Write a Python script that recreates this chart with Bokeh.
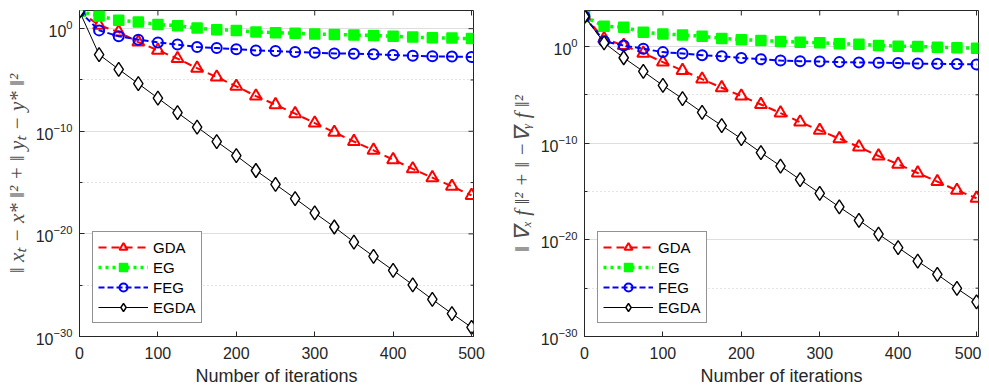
from bokeh.plotting import figure
from bokeh.layouts import row
from bokeh.models import (Range1d, FixedTicker, Legend, LegendItem, ColumnDataSource)
from bokeh.embed import file_html
from bokeh.resources import INLINE
import math

# ---------------- data ----------------
iters = [0, 25, 50, 75, 100, 125, 150, 175, 200, 225, 250,
         275, 300, 325, 350, 375, 400, 425, 450, 475, 500]

# left panel: ||x_t - x*||^2 + ||y_t - y*||^2
gda_dist = [49, 2.1, 0.47, 0.049, 7.8e-3, 1.2e-3, 1.4e-4, 1.9e-5, 2.4e-6, 2.7e-7, 3.9e-8,
            5.2e-9, 6.3e-10, 7.8e-11, 1.0e-11, 1.4e-12, 1.7e-13, 2.2e-14, 3.0e-15, 4.3e-16, 5.6e-17]
eg_dist = [49, 17, 6.5, 4.4, 2.6, 1.95, 1.15, 0.79, 0.68, 0.47, 0.41,
           0.35, 0.30, 0.275, 0.24, 0.22, 0.18, 0.15, 0.13, 0.12, 0.107]
feg_dist = [49, 0.68, 0.18, 0.085, 0.046, 0.028, 0.016, 0.013, 0.010, 7.6e-3, 6.6e-3,
            5.2e-3, 4.6e-3, 3.9e-3, 3.6e-3, 3.2e-3, 2.7e-3, 2.3e-3, 2.0e-3, 1.9e-3, 1.7e-3]
egda_dist = [49, 3.0e-3, 1.1e-4, 4.4e-6, 1.7e-7, 6.5e-9, 2.6e-10, 1.0e-11, 4.2e-13, 1.5e-14, 6.6e-16,
             2.8e-17, 1.1e-18, 4.7e-20, 1.6e-21, 6.5e-23, 2.8e-24, 1.1e-25, 4.1e-27, 1.7e-28, 7.8e-30]

# right panel: ||grad_x f||^2 + ||-grad_y f||^2
gda_grad = [1.26e3, 6.3, 1.26, 0.20, 0.024, 3.3e-3, 4.2e-4, 5.4e-5, 7.4e-6, 1.0e-6, 1.3e-7,
            1.5e-8, 2.1e-9, 2.9e-10, 4.0e-11, 4.7e-12, 6.5e-13, 8.1e-14, 1.05e-14, 1.3e-15, 2.0e-16]
eg_grad = [1.26e3, 126, 98, 30, 20, 15.5, 11.5, 6.8, 5.0, 4.2, 3.3,
           2.75, 2.4, 1.9, 1.7, 1.26, 1.07, 1.0, 0.85, 0.74, 0.66]
feg_grad = [1.26e3, 3.5, 1.26, 0.58, 0.26, 0.19, 0.126, 0.098, 0.065, 0.048, 0.035,
            0.030, 0.028, 0.024, 0.022, 0.021, 0.019, 0.017, 0.016, 0.015, 0.014]
egda_grad = [1.26e3, 2.4, 0.068, 2.6e-3, 9.3e-5, 4.0e-6, 1.5e-7, 6.6e-9, 2.9e-10, 1.05e-11, 4.3e-13,
             1.7e-14, 6.5e-16, 2.5e-17, 1.05e-18, 3.8e-20, 1.6e-21, 6.2e-23, 2.6e-24, 9.3e-26, 3.9e-27]

series_names = ["GDA", "EG", "FEG", "EGDA"]
x_ticks = [0, 100, 200, 300, 400, 500]
y_ticks = [1e-30, 1e-20, 1e-10, 1e0]
y_minor_ticks = [1e-25, 1e-15, 1e-5]

left_label = "\u2016 x\u209c \u2212 x* \u2016\u00b2 + \u2016 y\u209c \u2212 y* \u2016\u00b2"
right_label = "\u2016 \u2207\u2093 f \u2016\u00b2 + \u2016 \u2212\u2207\u1d67 f \u2016\u00b2"
x_label = "Number of iterations"

AX = "#262626"
TICK_FONT = "Liberation Sans"
X_MAX = 502.5

styles = {
    "GDA": dict(color="#ff0000", dash="8 5", lw=2, marker="triangle", size=12,
                fill=None, mlw=2),
    "EG": dict(color="#00ff00", dash="3 4", lw=3.5, marker="square", size=10,
               fill="#00ff00", mlw=1.5),
    "FEG": dict(color="#0000ff", dash="6 3", lw=2, marker="circle", size=10,
                fill=None, mlw=2),
    "EGDA": dict(color="#000000", dash="solid", lw=1, marker="diamond", size=14,
                 fill="white", mlw=1.4),
}


def make_panel(values, ylabel, ytop, border_left, border_right):
    p = figure(frame_width=394, frame_height=326, y_axis_type="log",
               x_range=Range1d(0, X_MAX), y_range=Range1d(1e-30, ytop),
               output_backend="svg", toolbar_location=None,
               min_border_left=border_left, min_border_right=border_right,
               min_border_top=10, min_border_bottom=44,
               background_fill_color="white", border_fill_color="white")
    p.outline_line_color = AX
    p.outline_line_width = 1

    # axes
    p.xaxis.ticker = FixedTicker(ticks=x_ticks)
    p.yaxis.ticker = FixedTicker(ticks=y_ticks, minor_ticks=y_minor_ticks)
    for ax in (p.xaxis[0], p.yaxis[0]):
        ax.axis_line_color = AX
        ax.major_tick_line_color = AX
        ax.minor_tick_line_color = AX
        ax.major_tick_in = 5
        ax.major_tick_out = 0
        ax.minor_tick_in = 3
        ax.minor_tick_out = 0
        ax.major_label_text_font = TICK_FONT
        ax.major_label_text_font_size = "16px"
        ax.major_label_text_color = AX
    p.xaxis.minor_tick_line_color = None
    p.xaxis.major_label_standoff = 10
    p.yaxis.major_label_standoff = 7
    p.xaxis.axis_label = x_label
    p.xaxis.axis_label_text_font = TICK_FONT
    p.xaxis.axis_label_text_font_style = "normal"
    p.xaxis.axis_label_text_font_size = "18px"
    p.xaxis.axis_label_text_color = AX
    p.xaxis.axis_label_standoff = 4
    p.yaxis.axis_label = ylabel
    p.yaxis.axis_label_text_font = "Liberation Serif"
    p.yaxis.axis_label_text_font_style = "italic"
    p.yaxis.axis_label_text_font_size = "21px"
    p.yaxis.axis_label_text_color = "#4d4d4d"
    p.yaxis.axis_label_standoff = 4

    # grids
    p.xgrid.grid_line_color = None
    p.ygrid.grid_line_color = "#dedede"
    p.ygrid.grid_line_width = 1
    p.ygrid.minor_grid_line_color = "#c8c8c8"
    p.ygrid.minor_grid_line_dash = "1 3"

    # box ticks on the top and right edges (half of each dash is clipped by the frame)
    p.scatter(x=x_ticks, y=[ytop] * len(x_ticks), marker="dash", angle=math.pi / 2,
              size=10, line_color=AX, line_width=1)
    p.scatter(x=[X_MAX] * len(y_ticks), y=y_ticks, marker="dash",
              size=10, line_color=AX, line_width=1)
    p.scatter(x=[X_MAX] * len(y_minor_ticks), y=y_minor_ticks, marker="dash",
              size=6, line_color=AX, line_width=1)

    items = []
    for name, vals in zip(series_names, values):
        st = styles[name]
        src = ColumnDataSource(dict(x=iters, y=vals))
        ln = p.line("x", "y", source=src, line_color=st["color"], line_width=st["lw"],
                    line_dash=st["dash"])
        sc = p.scatter("x", "y", source=src, marker=st["marker"], size=st["size"],
                       line_color=st["color"], line_width=st["mlw"],
                       fill_color=st["fill"])
        items.append(LegendItem(label=name, renderers=[ln, sc]))

    legend = Legend(items=items, location=(13, 13), margin=0, padding=5, spacing=0,
                    glyph_width=50, glyph_height=20, label_height=20, label_standoff=5,
                    label_text_font=TICK_FONT, label_text_font_size="15px",
                    label_text_color="#000000",
                    border_line_color=AX, border_line_width=1,
                    background_fill_color="white", background_fill_alpha=1)
    p.add_layout(legend, "center")
    return p


left = make_panel([gda_dist, eg_dist, feg_dist, egda_dist], left_label, 10 ** 1.77, 79, 27)
right_p = make_panel([gda_grad, eg_grad, feg_grad, egda_grad], right_label, 10 ** 3.72, 84, 3)

layout = row(left, right_p, spacing=0)
open("out.html", "w").write(file_html(layout, INLINE))
